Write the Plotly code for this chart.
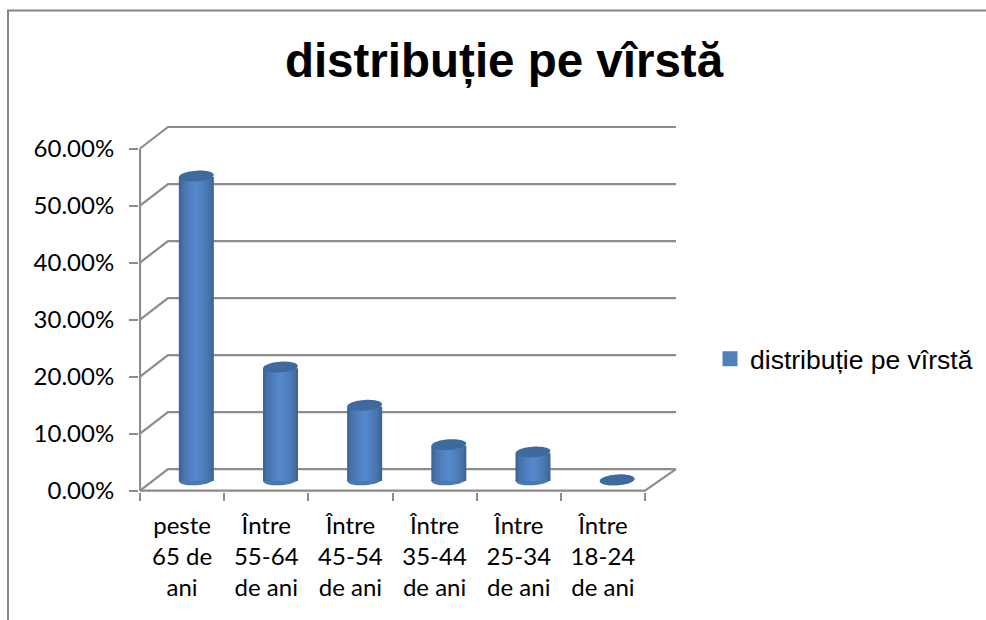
import math
import plotly.graph_objects as go

title_text = "distribuție pe vîrstă"
series_name = "distribuție pe vîrstă"
categories = ["peste<br>65 de<br>ani", "Între<br>55-64<br>de ani", "Între<br>45-54<br>de ani",
              "Între<br>35-44<br>de ani", "Între<br>25-34<br>de ani", "Între<br>18-24<br>de ani"]
values = [53.3, 19.8, 13.1, 6.2, 4.9, 0.0]
y_ticks = [0, 10, 20, 30, 40, 50, 60]
y_labels = ["0.00%", "10.00%", "20.00%", "30.00%", "40.00%", "50.00%", "60.00%"]

W, H = 986, 620
GRAY = "#8c8c8c"
LEFT, RIGHT_FRONT, RIGHT_BACK = 140.0, 645.0, 676.0
LEFT_BACK = 168.0
Y0, Y60, TOP_BACK = 490.7, 148.5, 127.0
n = len(categories)
px_x = (RIGHT_FRONT - LEFT) / n
px_y = (Y0 - Y60) / 60.0
dx = (RIGHT_BACK - RIGHT_FRONT) / px_x
dx_left = (LEFT_BACK - LEFT) / px_x
dy = (Y60 - TOP_BACK) / px_y
x0 = -0.5
x1 = n - 0.5
xr = [x0 - 1.0 / px_x, x1 + dx + 1.0 / px_x]
yr = [-1.2 / px_y, 60 + dy + 1.2 / px_y]
dom_x = [(LEFT + (xr[0] - x0) * px_x) / W, (LEFT + (xr[1] - x0) * px_x) / W]
dom_y = [(H - (Y0 - yr[0] * px_y)) / H, (H - (Y0 - yr[1] * px_y)) / H]

positions = list(range(n))
cyl_shift = dx / 2 - 0.015
bar_w = 35.0 / px_x
base = dy / 2 - 0.2


def lerp(a, b, t):
    return "#%02x%02x%02x" % tuple(round(a[i] + (b[i] - a[i]) * t) for i in range(3))


def ellipse(cx, cy, rx_px=17.4, ry_px=5.3, tilt=-4.0):
    pts = []
    tr = math.radians(tilt)
    for k in range(48):
        a = 2 * math.pi * k / 48
        ex, ey = rx_px * math.cos(a), ry_px * math.sin(a)
        sx = ex * math.cos(tr) - ey * math.sin(tr)
        sy = ex * math.sin(tr) + ey * math.cos(tr)
        pts.append((cx + sx / px_x, cy - sy / px_y))
    return "M" + "L".join(f"{p[0]:.4f},{p[1]:.4f}" for p in pts) + "Z"


shapes = []
line = dict(color=GRAY, width=2.2)


def add_line(xs, ys):
    path = "M" + "L".join(f"{a:.4f},{b:.4f}" for a, b in zip(xs, ys))
    shapes.append(dict(type="path", xref="x", yref="y", path=path, line=line, layer="below"))


for v in y_ticks:
    add_line([x0, x0 + dx_left, x1 + dx], [v, v + dy, v + dy])
add_line([x0, x0], [0, 60])
add_line([x0, x1, x1 + dx], [0, 0, dy])

for p in positions:
    shapes.append(dict(type="path", xref="x", yref="y", path=ellipse(p + cyl_shift, dy / 2),
                       fillcolor="#4a78b2", line=dict(width=0), layer="below"))
for p, v in zip(positions, values):
    shapes.append(dict(type="path", xref="x", yref="y", path=ellipse(p + cyl_shift, dy / 2 + v),
                       fillcolor="#3f6a9d", line=dict(width=0), layer="above"))
shapes.append(dict(type="path", xref="paper", yref="paper",
                   path=f"M{8/W},0L{8/W},{(H-10.5)/H}L1,{(H-10.5)/H}",
                   line=dict(color="#868686", width=2), layer="above"))

fig = go.Figure()
LAYERS = 10
dark, light = (60, 100, 148), (86, 136, 204)
for k in range(LAYERS):
    t = k / (LAYERS - 1)
    frac = 1 - k / LAYERS
    fig.add_trace(go.Bar(
        x=[p + cyl_shift for p in positions], y=values, base=base,
        width=bar_w * frac, marker=dict(color=lerp(dark, light, t ** 0.65), line=dict(width=0)),
        showlegend=False, hoverinfo="skip"))
fig.add_trace(go.Scatter(
    x=positions, y=[None] * n, mode="markers", name=series_name,
    marker=dict(symbol="square", size=15, color="#4f81bd")))

fig.update_layout(
    width=W, height=H, autosize=False, margin=dict(l=0, r=0, t=0, b=0),
    paper_bgcolor="white", plot_bgcolor="rgba(0,0,0,0)", barmode="overlay",
    title=dict(text=f"<b>{title_text}</b>", x=504 / W, xanchor="center", y=1 - 60 / H, yanchor="middle",
               font=dict(family="Liberation Sans", size=47.5, color="black")),
    shapes=shapes, showlegend=True,
    legend=dict(x=710 / W, y=1 - 359 / H, xanchor="left", yanchor="middle", bgcolor="rgba(0,0,0,0)",
                font=dict(family="Liberation Sans", size=26.5, color="black")),
    xaxis=dict(domain=dom_x, range=xr, automargin=False, showgrid=False, zeroline=False, showline=False,
               tickmode="array", tickvals=positions, ticktext=categories, ticks="",
               minor=dict(tickmode="array", tickvals=[x0 + i for i in range(n + 1)], ticks="outside",
                          ticklen=8, tickwidth=2, tickcolor=GRAY, showgrid=False),
               ticklabelstandoff=17, tickfont=dict(family="Lato", size=24, color="black")),
    yaxis=dict(domain=dom_y, range=yr, automargin=False, showgrid=False, zeroline=False, showline=False,
               tickmode="array", tickvals=y_ticks, ticktext=y_labels, ticks="outside", ticklen=9,
               tickwidth=2, tickcolor=GRAY, ticklabelstandoff=10,
               tickfont=dict(family="Lato", size=24, color="black")),
)
fig.write_html("out.html", config=dict(displayModeBar=False),
               post_script="document.body.style.margin='0';document.body.style.overflow='hidden';")
